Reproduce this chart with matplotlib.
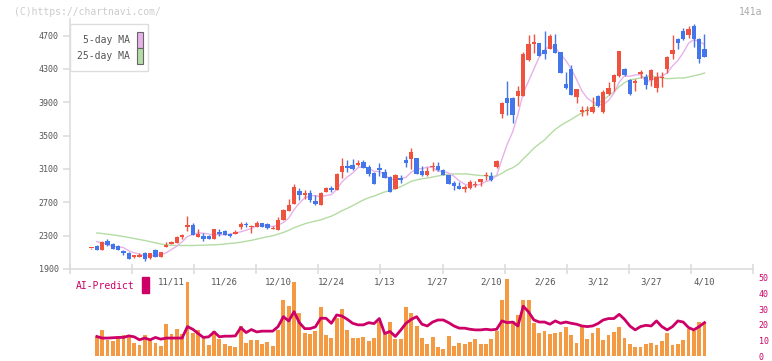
"""Candlestick chart with 5/25-day moving averages, volume bars and the
AI-Predict line underneath (chartnavi style), saved to out.png."""

import numpy as np
import matplotlib
matplotlib.use("Agg")
import matplotlib.pyplot as plt
from matplotlib.patches import Rectangle

nan = np.nan

# ---- data ----------------------------------------------------------------
tick_idx = [15, 25, 35, 45, 55, 65, 75, 85, 95, 105, 115]
tick_dates = ["11/11", "11/26", "12/10", "12/24", "1/13", "1/27",
              "2/10", "2/26", "3/12", "3/27", "4/10"]

opens = [2150, 2180, 2132, 2240, 2204, 2172, 2120, 2096, 2040, 2048,
         2096, 2036, 2132, 2048, 2168, 2204, 2216, 2288, 2408, 2432,
         2288, 2300, 2300, 2264, 2348, 2360, 2324, 2324, 2408, 2444,
         2400, 2404, 2452, 2444, 2380, 2372, 2492, 2600, 2684, 2840,
         2784, 2816, 2720, 2672, 2828, 2876, 2852, 3068, 3140, 3152,
         3152, 3188, 3128, 3056, 3116, 3068, 3008, 2864, 2992, 3212,
         3224, 3232, 3080, 3024, 3120, 3132, 3092, 3024, 2932, 2900,
         2860, 2868, 2908, 2948, 3020, 3012, 3128, 3756, 3956, 3956,
         3980, 3980, 4404, 4596, 4612, 4532, 4544, 4604, 4500, 4124,
         4304, 3968, 3784, 3792, 3784, 3980, 3788, 4004, 4140, 4212,
         4304, 4172, 4128, 4236, 4208, 4172, 4076, 4196, 4304, 4484,
         4664, 4760, 4712, 4820, 4664, 4544]
highs = [2156, 2192, 2240, 2264, 2216, 2184, 2124, 2108, 2072, 2096,
         2100, 2096, 2136, 2108, 2228, 2240, 2292, 2316, 2540, 2456,
         2384, 2336, 2304, 2384, 2384, 2364, 2328, 2372, 2468, 2468,
         2428, 2480, 2456, 2456, 2420, 2528, 2616, 2744, 2924, 2876,
         2852, 2852, 2792, 2828, 2888, 2900, 3056, 3236, 3212, 3224,
         3212, 3212, 3152, 3060, 3176, 3104, 3012, 3040, 3032, 3260,
         3352, 3236, 3140, 3124, 3180, 3180, 3096, 3028, 2952, 2940,
         2912, 2972, 2952, 2984, 3060, 3064, 3204, 3900, 4152, 3960,
         4092, 4504, 4704, 4724, 4616, 4760, 4724, 4724, 4504, 4260,
         4352, 4064, 3860, 3852, 3960, 3992, 4048, 4140, 4240, 4520,
         4312, 4176, 4176, 4292, 4244, 4296, 4268, 4268, 4452, 4712,
         4676, 4796, 4820, 4844, 4668, 4724]
lows = [2146, 2124, 2132, 2180, 2140, 2130, 2072, 2024, 2036, 2044,
        2000, 2024, 2048, 2044, 2164, 2196, 2212, 2264, 2360, 2312,
        2284, 2240, 2260, 2260, 2300, 2308, 2288, 2320, 2384, 2404,
        2332, 2400, 2400, 2384, 2376, 2368, 2488, 2596, 2680, 2732,
        2744, 2708, 2672, 2668, 2824, 2828, 2848, 2996, 3068, 3092,
        3140, 3108, 3020, 2920, 3020, 2992, 2824, 2860, 2932, 3120,
        3104, 3036, 3020, 3020, 3080, 3080, 3028, 2916, 2852, 2860,
        2820, 2864, 2880, 2900, 2972, 2952, 3108, 3708, 3752, 3648,
        3852, 3976, 4400, 4492, 4452, 4424, 4540, 4492, 4248, 4064,
        3992, 3896, 3740, 3748, 3772, 3840, 3776, 3992, 4040, 4200,
        4212, 3992, 4040, 4188, 4064, 4100, 4028, 4088, 4256, 4424,
        4540, 4652, 4676, 4568, 4368, 4440]
closes = [2152, 2132, 2228, 2192, 2144, 2132, 2096, 2024, 2072, 2072,
          2024, 2096, 2048, 2108, 2192, 2228, 2288, 2312, 2432, 2312,
          2324, 2264, 2264, 2384, 2324, 2312, 2300, 2348, 2444, 2428,
          2408, 2452, 2404, 2388, 2396, 2492, 2612, 2672, 2888, 2792,
          2808, 2732, 2684, 2816, 2876, 2852, 3044, 3140, 3116, 3104,
          3176, 3116, 3044, 2924, 3092, 2996, 2828, 3032, 2972, 3172,
          3304, 3040, 3024, 3080, 3140, 3084, 3032, 2920, 2892, 2864,
          2880, 2940, 2920, 2980, 3032, 2972, 3200, 3896, 3896, 3744,
          4040, 4484, 4604, 4628, 4460, 4484, 4700, 4496, 4248, 4076,
          3992, 4064, 3808, 3804, 3848, 3860, 4028, 4076, 4232, 4520,
          4232, 4004, 4152, 4260, 4104, 4292, 4208, 4208, 4448, 4532,
          4616, 4664, 4784, 4664, 4424, 4440]

ma5 = [nan, 2228, 2215, 2192, 2170, 2166, 2158, 2118, 2094, 2079,
       2058, 2058, 2062, 2070, 2094, 2134, 2173, 2226, 2290, 2314,
       2334, 2329, 2319, 2310, 2312, 2310, 2317, 2334, 2346, 2366,
       2386, 2416, 2427, 2416, 2410, 2426, 2458, 2512, 2612, 2691,
       2754, 2778, 2781, 2766, 2783, 2792, 2854, 2946, 3006, 3051,
       3116, 3130, 3111, 3073, 3070, 3034, 2977, 2974, 2984, 3000,
       3062, 3104, 3102, 3124, 3118, 3074, 3072, 3051, 3014, 2958,
       2918, 2899, 2899, 2917, 2950, 2969, 3021, 3216, 3399, 3542,
       3755, 4012, 4154, 4300, 4443, 4532, 4575, 4554, 4478, 4401,
       4302, 4175, 4038, 3950, 3904, 3878, 3870, 3923, 4009, 4143,
       4218, 4213, 4228, 4234, 4150, 4162, 4203, 4214, 4252, 4338,
       4402, 4494, 4609, 4652, 4630, 4595]
ma25 = [nan, 2332, 2326, 2318, 2310, 2300, 2290, 2278, 2266, 2254,
        2242, 2228, 2214, 2200, 2190, 2184, 2182, 2182, 2182, 2182,
        2184, 2186, 2188, 2190, 2194, 2200, 2207, 2212, 2222, 2233,
        2244, 2258, 2274, 2286, 2299, 2318, 2339, 2364, 2395, 2419,
        2442, 2460, 2475, 2490, 2512, 2534, 2565, 2600, 2629, 2660,
        2695, 2728, 2755, 2775, 2801, 2825, 2840, 2865, 2888, 2919,
        2952, 2969, 2983, 2991, 3004, 3016, 3028, 3037, 3040, 3040,
        3041, 3036, 3028, 3022, 3019, 3011, 3015, 3049, 3088, 3114,
        3155, 3222, 3284, 3351, 3402, 3449, 3516, 3575, 3621, 3659,
        3695, 3736, 3772, 3809, 3848, 3887, 3931, 3977, 4027, 4087,
        4137, 4169, 4179, 4194, 4208, 4218, 4207, 4192, 4184, 4187,
        4192, 4191, 4203, 4219, 4233, 4251]

# volume, in units of the right-hand axis
volume = [nan, 12.2, 16.6, 10.3, 9.9, 12.2, 13.4, 13.4, 8.6, 7.1,
          13.4, 10.3, 8.6, 6.5, 20.4, 14.1, 17.2, 14.1, 47.0, 15.1,
          16.6, 12.2, 7.1, 16.2, 10.9, 7.8, 6.5, 5.9, 19.3, 8.4,
          10.3, 10.3, 7.8, 9.2, 6.5, 16.6, 36.1, 31.9, 47.0, 27.7,
          14.7, 14.1, 16.2, 31.4, 13.4, 11.5, 24.6, 29.8, 16.6, 11.5,
          11.5, 12.4, 9.9, 11.5, 21.8, 14.1, 21.8, 10.9, 10.9, 31.1,
          27.7, 19.3, 11.5, 7.8, 12.2, 5.9, 4.6, 12.8, 6.5, 8.4,
          7.6, 8.9, 10.9, 7.8, 7.8, 10.9, 16.2, 35.5, 49.4, 22.4,
          26.2, 36.1, 36.1, 21.4, 14.7, 16.0, 14.1, 14.7, 15.3, 18.5,
          13.4, 8.4, 18.5, 10.9, 14.7, 17.8, 10.3, 13.4, 15.3, 18.5,
          11.5, 7.8, 5.9, 5.9, 7.8, 8.4, 7.1, 9.5, 14.7, 7.1,
          7.8, 10.3, 17.4, 16.0, 21.6, 21.6]
ai_predict = [nan, 12.6, 11.6, 11.6, 11.8, 12.0, 12.0, 13.0, 12.4, 10.5,
              11.6, 10.5, 12.0, 10.9, 11.6, 11.6, 11.6, 11.6, 18.9, 17.2,
              14.5, 12.0, 12.4, 15.5, 12.4, 12.8, 12.8, 13.0, 18.3, 15.1,
              17.0, 15.5, 16.0, 16.0, 16.0, 18.9, 25.2, 22.5, 28.4, 21.4,
              17.6, 17.6, 18.7, 24.2, 24.2, 21.0, 26.3, 25.6, 23.5, 21.0,
              20.0, 20.0, 21.4, 20.8, 24.0, 14.5, 15.8, 12.6, 16.6, 21.0,
              23.5, 25.2, 20.4, 19.3, 21.8, 23.1, 23.1, 21.4, 19.3, 17.9,
              17.9, 17.2, 16.8, 16.8, 17.2, 16.8, 17.2, 22.5, 21.4, 21.8,
              19.3, 31.9, 28.2, 23.1, 21.8, 21.8, 20.4, 22.5, 21.0, 21.8,
              21.0, 20.4, 19.3, 18.9, 19.3, 20.8, 23.1, 24.0, 24.0, 26.7,
              23.5, 19.3, 16.8, 18.9, 19.7, 19.3, 22.5, 18.9, 16.8, 18.9,
              22.5, 21.8, 18.3, 16.8, 18.9, 21.4]

price_ticks = [1900, 2300, 2700, 3100, 3500, 3900, 4300, 4700]
ai_ticks = [0, 10, 20, 30, 40, 50]

# ---- styling ---------------------------------------------------------------
UP = "#f05240"
DOWN = "#4276ea"
MA5_C = "#e8b2e8"
MA25_C = "#b4dca4"
VOL_C = "#f39a42"
AI_C = "#cc0066"
AXIS_C = "#dddddd"
TEXT_C = "#555555"
FONT = "DejaVu Sans Mono"

W, H = 772, 361


def fx(px):
    return px / W


def fy(py):
    return 1 - py / H


def main():
    plt.rcParams["font.family"] = FONT
    fig = plt.figure(figsize=(W / 100, H / 100), dpi=100)

    x = np.arange(len(closes))
    o = np.array(opens, float)
    c = np.array(closes, float)
    hi = np.array(highs, float)
    lo = np.array(lows, float)
    up = c >= o
    colors = np.where(up, UP, DOWN)
    xlim = (-4.03, 124.1)

    # price panel
    ax = fig.add_axes([fx(70), fy(269), fx(683), 250 / H])
    ax.set_xlim(*xlim)
    ax.set_ylim(1900, 4900)
    ax.plot(x, ma25, color=MA25_C, lw=1.0, zorder=2)
    ax.plot(x, ma5, color=MA5_C, lw=1.0, zorder=2)
    ax.vlines(x, lo, hi, colors=colors, lw=1.0, zorder=3)
    body_lo = np.minimum(o, c)
    body_h = np.maximum(np.abs(c - o), 10)
    ax.bar(x, body_h, bottom=body_lo, width=0.82, color=colors,
           linewidth=0, zorder=4)

    for side in ("top", "right"):
        ax.spines[side].set_visible(False)
    for side in ("left", "bottom"):
        ax.spines[side].set_color(AXIS_C)
        ax.spines[side].set_linewidth(1.2)
    ax.set_yticks(price_ticks)
    ax.tick_params(axis="y", colors=AXIS_C, labelcolor=TEXT_C,
                   labelsize=6, length=5, width=1.2, pad=3)
    ax.set_xticks(np.linspace(xlim[0], xlim[1], 12))
    ax.set_xticklabels([])
    ax.tick_params(axis="x", colors=AXIS_C, direction="inout",
                   length=7, width=1.2)

    # volume + AI-Predict panel
    ax2 = fig.add_axes([fx(70), fy(356.3), fx(683), 78.6 / H])
    ax2.set_xlim(*xlim)
    ax2.set_ylim(0, 50)
    ax2.bar(x, volume, width=0.72, color=VOL_C, linewidth=0, zorder=2)
    ax2.plot(x, ai_predict, color=AI_C, lw=2.0, zorder=3)
    for s in ax2.spines.values():
        s.set_visible(False)
    ax2.set_xticks([])
    ax2.yaxis.tick_right()
    ax2.set_yticks(ai_ticks)
    ax2.tick_params(axis="y", length=0, labelcolor=AI_C, labelsize=6,
                    pad=4)
    for i, lab in zip(tick_idx, tick_dates):
        ax2.text(i, 47.2, lab, ha="center", va="center", fontsize=6.5,
                 color=TEXT_C)

    fig.text(fx(76), fy(286), "AI-Predict", color=AI_C, fontsize=7,
             va="center", ha="left")
    fig.patches.append(Rectangle((fx(142), fy(293)), fx(7), 16 / H,
                                 transform=fig.transFigure, color=AI_C,
                                 zorder=5))

    # legend box
    fig.patches.append(Rectangle((fx(70), fy(71)), fx(78), 47 / H,
                                 transform=fig.transFigure, fc="white",
                                 ec=AXIS_C, lw=1.0, zorder=5))
    for row, (lab, col) in enumerate([("5-day MA", MA5_C),
                                      ("25-day MA", MA25_C)]):
        yc = 40 + row * 16
        fig.text(fx(130), fy(yc), lab, ha="right", va="center",
                 fontsize=7, color=TEXT_C, zorder=6)
        fig.patches.append(Rectangle((fx(136.5), fy(yc + 7.5)), fx(6),
                                     15 / H, transform=fig.transFigure,
                                     fc=col, ec="#666666", lw=0.8,
                                     zorder=6))

    fig.text(fx(14), fy(12), "(C)https://chartnavi.com/", fontsize=7,
             color="#cccccc", va="center", ha="left")
    fig.text(fx(762), fy(12), "141a", fontsize=7, color="#aaaaaa",
             va="center", ha="right")

    fig.savefig("out.png", dpi=100)
    plt.close(fig)


if __name__ == "__main__":
    main()
